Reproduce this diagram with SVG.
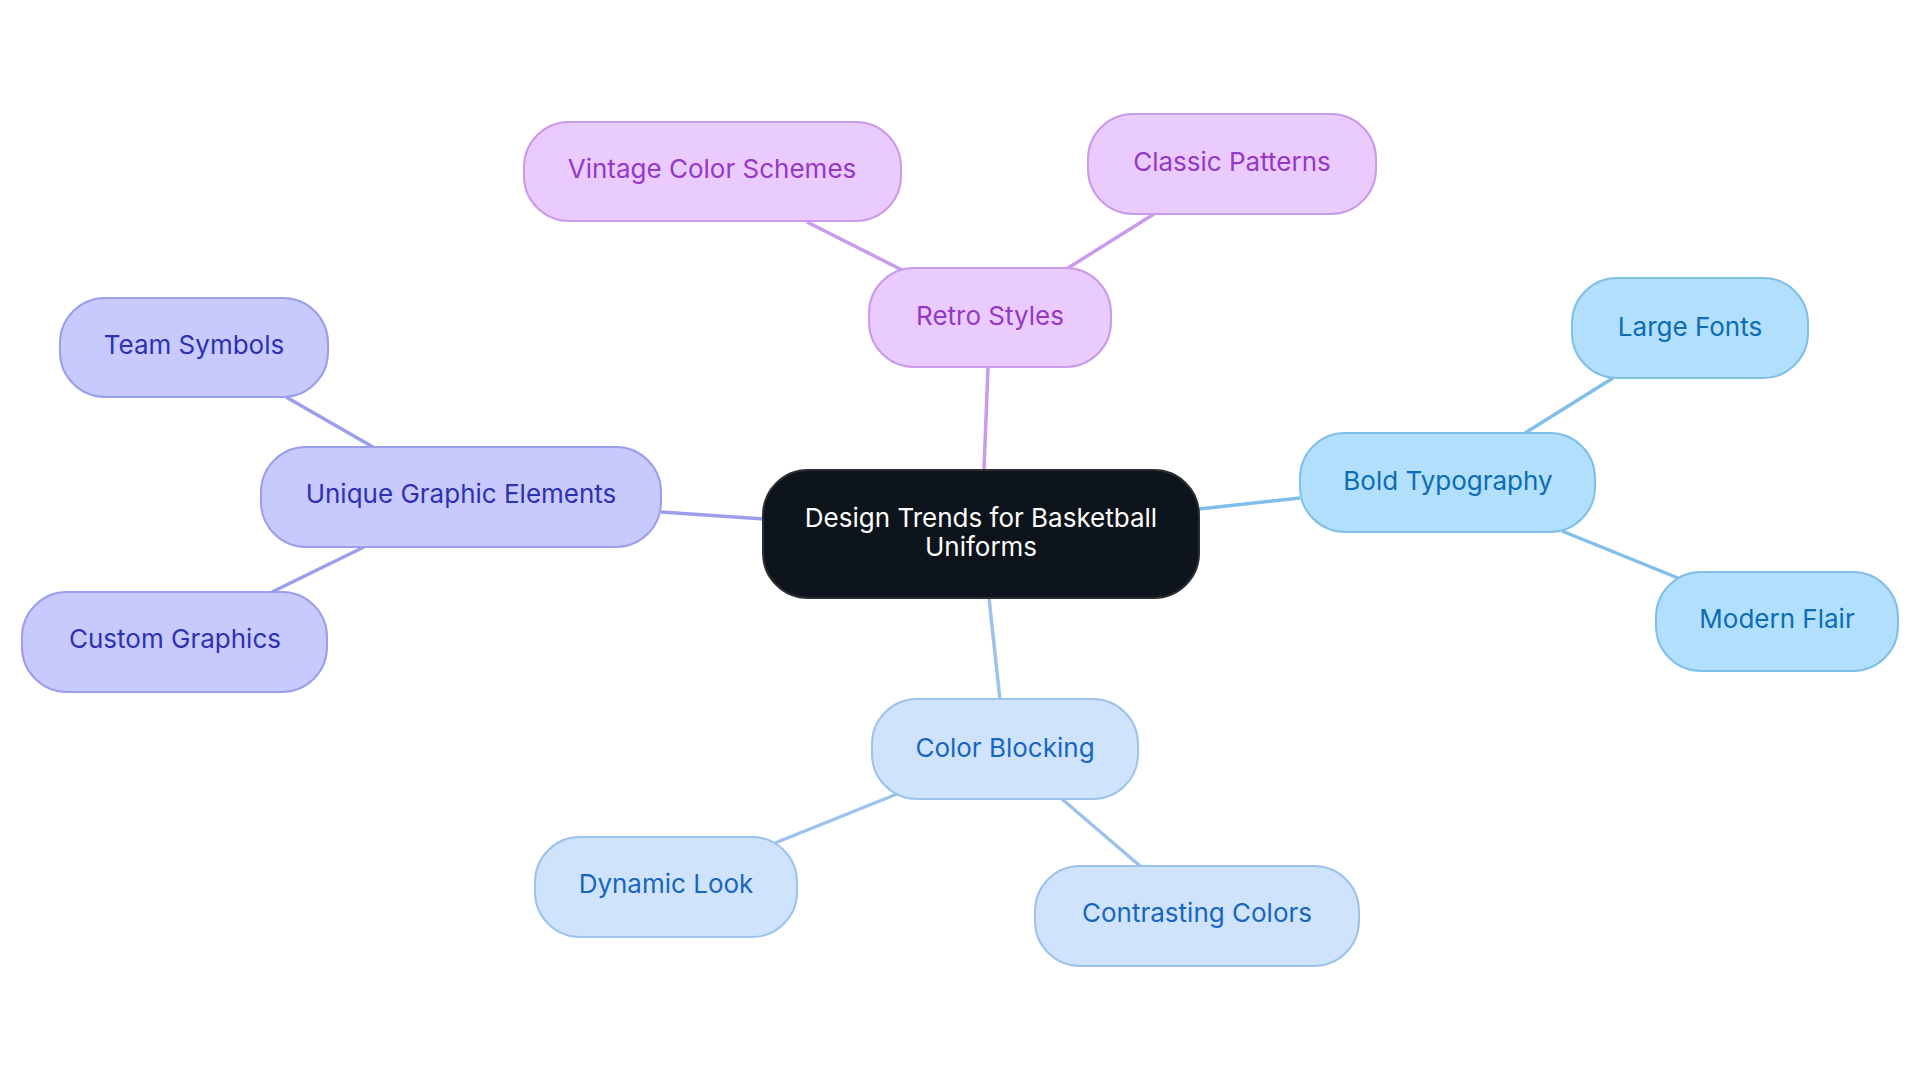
<svg xmlns="http://www.w3.org/2000/svg" width="1920" height="1083" viewBox="0 0 1920 1083">
<style>
text{font-family:Inter,"Open Sans","Liberation Sans",sans-serif;font-size:26px;text-anchor:middle}
.c rect{fill:#0D141B;stroke:#2b2f33;stroke-width:2}
.c text{fill:#ffffff;font-size:26px}
.p rect{fill:#EACBFF;stroke:#C99BEA;stroke-width:2}
.p text{fill:#9538C6}
.i rect{fill:#C8CAFE;stroke:#9B9EEA;stroke-width:2}
.i text{fill:#2E31B0}
.b rect{fill:#B2DFFC;stroke:#80BFEA;stroke-width:2}
.b text{fill:#0C6CB5}
.l rect{fill:#CFE4FC;stroke:#9DC3EC;stroke-width:2}
.l text{fill:#1766BF}
#edges line{stroke-width:3.5;fill:none}
</style>
<rect width="1920" height="1083" fill="#ffffff"/>
<g id="edges">
<line x1="988" y1="368" x2="984" y2="470" stroke="#C99BEA"/>
<line x1="807" y1="222" x2="902" y2="270" stroke="#C99BEA"/>
<line x1="1154" y1="214" x2="1068" y2="268" stroke="#C99BEA"/>
<line x1="661" y1="512" x2="764" y2="519" stroke="#9B9EEA"/>
<line x1="286" y1="397" x2="373" y2="447" stroke="#9B9EEA"/>
<line x1="364" y1="547" x2="272" y2="592" stroke="#9B9EEA"/>
<line x1="1300" y1="498" x2="1199" y2="509" stroke="#80BFEA"/>
<line x1="1525" y1="433" x2="1613" y2="378" stroke="#80BFEA"/>
<line x1="1562" y1="531" x2="1678" y2="578" stroke="#80BFEA"/>
<line x1="1000" y1="700" x2="989" y2="598" stroke="#9DC3EC"/>
<line x1="897" y1="794" x2="775" y2="843" stroke="#9DC3EC"/>
<line x1="1062" y1="799" x2="1140" y2="866" stroke="#9DC3EC"/>
</g>
<g id="center" class="c">
<rect x="763" y="470" width="436" height="128" rx="45"/>
<text x="981" y="527">Design Trends for Basketball</text>
<text x="981" y="556">Uniforms</text>
</g>
<g id="retro" class="p">
<rect x="869" y="268" width="242" height="99" rx="45"/>
<text x="990" y="325">Retro Styles</text>
</g>
<g id="vintage" class="p">
<rect x="524" y="122" width="377" height="99" rx="45"/>
<text x="712" y="178">Vintage Color Schemes</text>
</g>
<g id="classic" class="p">
<rect x="1088" y="114" width="288" height="100" rx="45"/>
<text x="1232" y="171">Classic Patterns</text>
</g>
<g id="unique" class="i">
<rect x="261" y="447" width="400" height="100" rx="45"/>
<text x="461" y="503">Unique Graphic Elements</text>
</g>
<g id="team" class="i">
<rect x="60" y="298" width="268" height="99" rx="45"/>
<text x="194" y="354">Team Symbols</text>
</g>
<g id="custom" class="i">
<rect x="22" y="592" width="305" height="100" rx="45"/>
<text x="175" y="648">Custom Graphics</text>
</g>
<g id="bold" class="b">
<rect x="1300" y="433" width="295" height="99" rx="45"/>
<text x="1448" y="490">Bold Typography</text>
</g>
<g id="large" class="b">
<rect x="1572" y="278" width="236" height="100" rx="45"/>
<text x="1690" y="336">Large Fonts</text>
</g>
<g id="modern" class="b">
<rect x="1656" y="572" width="242" height="99" rx="45"/>
<text x="1777" y="628">Modern Flair</text>
</g>
<g id="colorblocking" class="l">
<rect x="872" y="699" width="266" height="100" rx="45"/>
<text x="1005" y="757">Color Blocking</text>
</g>
<g id="dynamic" class="l">
<rect x="535" y="837" width="262" height="100" rx="45"/>
<text x="666" y="893">Dynamic Look</text>
</g>
<g id="contrasting" class="l">
<rect x="1035" y="866" width="324" height="100" rx="45"/>
<text x="1197" y="922">Contrasting Colors</text>
</g>
</svg>
